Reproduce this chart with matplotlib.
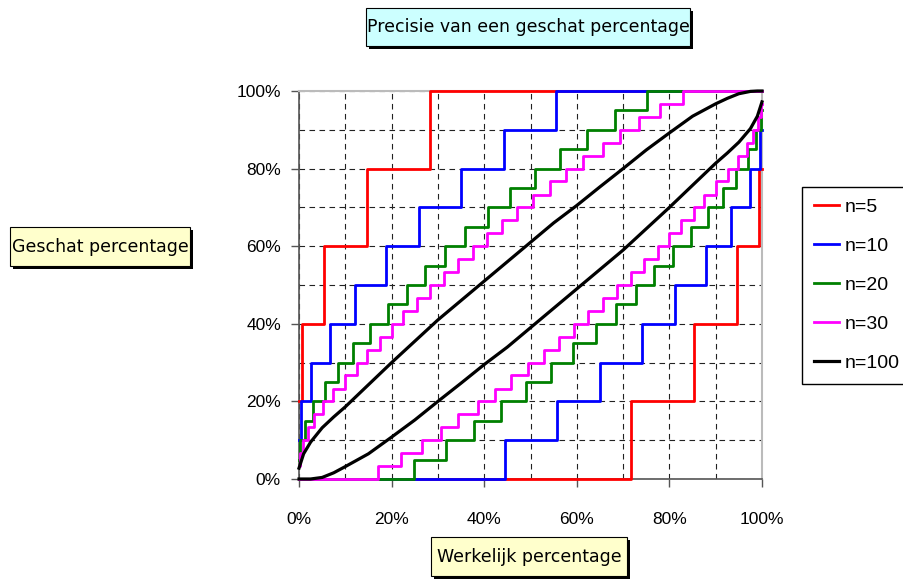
import matplotlib
matplotlib.use('Agg')
import matplotlib.pyplot as plt
from matplotlib.patches import Rectangle

n5_up_x = [0, 0.6, 5.3, 14.6, 28.3, 100]
n5_up_y = [20, 40, 60, 80, 100, 100]
n5_lo_x = [0, 71.7, 85.4, 94.7, 99.4, 100]
n5_lo_y = [0, 20, 40, 60, 80, 80]

n10_up_x = [0, 0.5, 2.5, 6.6, 12.0, 18.8, 25.9, 35.0, 44.3, 55.4, 100]
n10_up_y = [10, 20, 30, 40, 50, 60, 70, 80, 90, 100, 100]
n10_lo_x = [0, 44.6, 55.7, 65.0, 74.1, 81.2, 87.9, 93.4, 97.5, 99.5, 100]
n10_lo_y = [0, 10, 20, 30, 40, 50, 60, 70, 80, 90, 90]

n20_up_x = [0, 0.3, 1.3, 3.0, 5.6, 8.4, 11.7, 15.3, 19.2, 23.3, 27.2, 31.5, 35.9,
            40.8, 45.6, 51.0, 56.4, 62.2, 68.3, 75.2, 100]
n20_up_y = [5, 10, 15, 20, 25, 30, 35, 40, 45, 50, 55, 60, 65, 70, 75, 80, 85, 90,
            95, 100, 100]
n20_lo_x = [0, 24.8, 31.7, 37.8, 43.6, 49.0, 54.4, 59.2, 64.1, 68.5, 72.8, 76.7,
            80.8, 84.7, 88.3, 91.6, 94.4, 97.0, 98.7, 99.7, 100]
n20_lo_y = [0, 5, 10, 15, 20, 25, 30, 35, 40, 45, 50, 55, 60, 65, 70, 75, 80, 85,
            90, 95, 95]

n30_up_x = [0, 0.2, 0.9, 1.9, 3.2, 5.2, 7.3, 9.9, 12.5, 14.7, 17.5, 20.1, 22.5, 25.5,
            28.3, 31.3, 34.3, 37.6, 40.6, 43.8, 47.1, 50.5, 54.2, 57.7, 61.3, 65.7,
            69.3, 73.4, 78.0, 82.9, 100]
n30_up_y = [3.3, 6.7, 10, 13.3, 16.7, 20, 23.3, 26.7, 30, 33.3, 36.7, 40, 43.3, 46.7,
            50, 53.3, 56.7, 60, 63.3, 66.7, 70, 73.3, 76.7, 80, 83.3, 86.7, 90, 93.3,
            96.7, 100, 100]
n30_lo_x = [0, 17.1, 22.0, 26.6, 30.7, 34.3, 38.7, 42.3, 45.8, 49.5, 52.9, 56.2, 59.4,
            62.4, 65.7, 68.7, 71.7, 74.5, 77.5, 79.9, 82.5, 85.3, 87.5, 90.1, 92.7,
            94.8, 96.8, 98.1, 99.1, 99.8, 100]
n30_lo_y = [0, 3.3, 6.7, 10, 13.3, 16.7, 20, 23.3, 26.7, 30, 33.3, 36.7, 40, 43.3,
            46.7, 50, 53.3, 56.7, 60, 63.3, 66.7, 70, 73.3, 76.7, 80, 83.3, 86.7, 90,
            93.3, 96.7, 96.7]

n100_x = [0, 1, 2.5, 5, 7.5, 10, 15, 20, 25, 30, 35, 40, 45, 50, 55, 60, 65, 70, 75,
          80, 85, 90, 92.5, 95, 97.5, 99, 100]
n100_up = [2.8, 6.5, 9.5, 13.2, 16.0, 18.6, 24.3, 30.0, 35.5, 41.0, 46.0, 51.0, 56.0,
           61.0, 66.0, 70.5, 75.3, 80.0, 84.8, 89.2, 93.5, 96.7, 98.1, 99.3, 99.9, 100, 100]
n100_lo = [0, 0, 0, 0.4, 1.6, 3.2, 6.5, 10.8, 15.2, 20.0, 24.7, 29.5, 34.0, 39.0, 44.0,
           49.0, 54.0, 59.0, 64.5, 70.0, 75.7, 81.4, 84.0, 86.8, 90.3, 93.5, 97.2]

labels = ['n=5', 'n=10', 'n=20', 'n=30', 'n=100']
kleuren = ['#ff0000', '#0000ff', '#008000', '#ff00ff', '#000000']

W, H = 904, 580
fig = plt.figure(figsize=(W / 100, H / 100), dpi=100)
ax = fig.add_axes([299 / W, 1 - 479 / H, 463 / W, 388 / H])

trappen = [
    (n5_up_x, n5_up_y, n5_lo_x, n5_lo_y),
    (n10_up_x, n10_up_y, n10_lo_x, n10_lo_y),
    (n20_up_x, n20_up_y, n20_lo_x, n20_lo_y),
    (n30_up_x, n30_up_y, n30_lo_x, n30_lo_y),
]
for (ux, uy, lx, ly), lab, kl in zip(trappen, labels, kleuren):
    ax.step(ux, uy, where='post', color=kl, lw=2, label=lab, zorder=3, clip_on=False)
    ax.step(lx, ly, where='post', color=kl, lw=2, zorder=3, clip_on=False)

ax.plot(n100_x, n100_up, color=kleuren[4], lw=2.3, label=labels[4], zorder=3, clip_on=False)
ax.plot(n100_x, n100_lo, color=kleuren[4], lw=2.3, zorder=3, clip_on=False)

ax.set_xlim(0, 100)
ax.set_ylim(0, 100)
ax.set_xticks(range(0, 101, 10), minor=True)
ax.set_yticks(range(0, 101, 10), minor=True)
ax.set_xticks(range(0, 101, 20))
ax.set_yticks(range(0, 101, 20))
ax.set_xticklabels([f'{v}%' for v in range(0, 101, 20)])
ax.set_yticklabels([f'{v}%' for v in range(0, 101, 20)])
ax.tick_params(which='minor', length=0)
ax.tick_params(which='major', length=6, width=1, color='#555555', labelsize=12.5)
ax.tick_params(axis='x', pad=18)
ax.tick_params(axis='y', pad=7)
for lbl in ax.get_xticklabels() + ax.get_yticklabels():
    lbl.set_fontfamily('Liberation Sans')
ax.grid(which='both', color='#222222', lw=0.8, ls=(0, (5, 4)))
for s in ['left', 'bottom']:
    ax.spines[s].set_color('#555555')
    ax.spines[s].set_linewidth(1.2)
for s in ['top', 'right']:
    ax.spines[s].set_color('#bbbbbb')
    ax.spines[s].set_linewidth(1.5)

leg = fig.legend(loc='upper left', bbox_to_anchor=(802 / W, 1 - 187 / H),
                 prop={'family': 'Liberation Sans', 'size': 14},
                 frameon=True, fancybox=False, edgecolor='black', framealpha=1,
                 handlelength=1.3, handletextpad=0.3, labelspacing=1.1,
                 borderpad=0.6, borderaxespad=0)
leg.get_frame().set_linewidth(1)


# tekstvakjes met schaduw, in pixels vanaf linksboven
def tekstvak(x0, y0, x1, y1, tekst, kleur):
    fig.patches.append(Rectangle((x0 / W + 3 / W, 1 - (y1 + 3) / H), (x1 - x0) / W, (y1 - y0) / H,
                                 transform=fig.transFigure, facecolor='black', edgecolor='none'))
    fig.patches.append(Rectangle((x0 / W, 1 - y1 / H), (x1 - x0) / W, (y1 - y0) / H,
                                 transform=fig.transFigure, facecolor=kleur, edgecolor='black', lw=0.8))
    fig.text((x0 + x1) / 2 / W, 1 - (y0 + y1) / 2 / H, tekst, ha='center', va='center',
             fontsize=12.5, family='DejaVu Sans')


tekstvak(366, 8, 690, 46, 'Precisie van een geschat percentage', '#ccffff')
tekstvak(10, 227, 190, 266, 'Geschat percentage', '#ffffcc')
tekstvak(431, 537, 627, 576, 'Werkelijk percentage', '#ffffcc')

fig.savefig('out.png', dpi=100)
